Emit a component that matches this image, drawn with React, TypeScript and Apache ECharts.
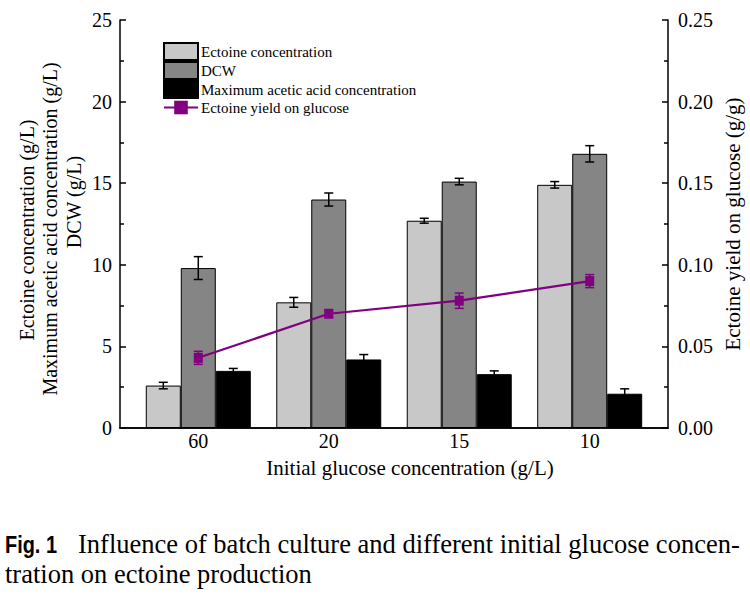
import React, { useEffect, useRef } from "react";
import * as echarts from "echarts";

const categories = ["60", "20", "15", "10"];
const ectoine = [2.6, 7.7, 12.7, 14.9];
const ectoineErr = [0.2, 0.3, 0.15, 0.2];
const dcw = [9.8, 14.0, 15.1, 16.8];
const dcwErr = [0.7, 0.4, 0.2, 0.5];
const acetic = [3.5, 4.2, 3.3, 2.1];
const aceticErr = [0.15, 0.3, 0.2, 0.3];
const yieldVals = [0.043, 0.07, 0.078, 0.09];
const yieldErr = [0.004, 0.002, 0.0047, 0.004];
const leftTicks = [0, 5, 10, 15, 20, 25];
const rightTicks = [0, 0.05, 0.1, 0.15, 0.2, 0.25];

const SERIF = "Liberation Serif";
const BAR_W = 35;

export default function App() {
  const ref = useRef<HTMLDivElement>(null);
  useEffect(() => {
    if (!ref.current) return;
    const chart = echarts.init(ref.current, null, { renderer: "svg" });
    const xs = categories.map((_, i) => i + 1);
    const errSeries = (name: string, vals: number[], errs: number[], dx: number, yAxisIndex: number, color: string) => ({
      type: "custom",
      name,
      yAxisIndex,
      z: 10,
      silent: true,
      data: vals.map((v, i) => [xs[i], v - errs[i], v + errs[i]]),
      renderItem: (params: any, api: any) => {
        const lo = api.coord([api.value(0), api.value(1)]);
        const hi = api.coord([api.value(0), api.value(2)]);
        const x = lo[0] + dx;
        const st = { stroke: color, lineWidth: 1.5 };
        return {
          type: "group",
          children: [
            { type: "line", shape: { x1: x, y1: lo[1], x2: x, y2: hi[1] }, style: st },
            { type: "line", shape: { x1: x - 4.5, y1: lo[1], x2: x + 4.5, y2: lo[1] }, style: st },
            { type: "line", shape: { x1: x - 4.5, y1: hi[1], x2: x + 4.5, y2: hi[1] }, style: st },
          ],
        };
      },
    });
    const barSeries = (name: string, vals: number[], color: string) => ({
      type: "bar",
      name,
      barWidth: BAR_W,
      barGap: "0%",
      data: vals.map((v, i) => [xs[i], v]),
      itemStyle: { color, borderColor: "#000", borderWidth: 1 },
    });
    const axisText = { color: "#000", fontFamily: SERIF, fontSize: 20 };
    const gText = (text: string, x: number, y: number, rot: number, extra: any = {}, el: any = {}) => ({
      type: "text",
      x,
      y,
      rotation: rot,
      ...el,
      style: {
        text,
        fontFamily: SERIF,
        fontSize: 20,
        fill: "#000",
        textAlign: "center",
        textVerticalAlign: "middle",
        ...extra,
      },
    });
    chart.setOption({
      animation: false,
      textStyle: { fontFamily: SERIF },
      grid: { left: 120, right: 82, top: 20, bottom: 167 },
      legend: {
        left: 163,
        top: 42,
        orient: "vertical",
        itemWidth: 34,
        itemHeight: 17,
        itemGap: 0,
        padding: 0,
        textStyle: { color: "#000", fontFamily: SERIF, fontSize: 15, lineHeight: 17, padding: [0, 0, 0, -2] },
        data: [
          { name: "Ectoine concentration", icon: "rect" },
          { name: "DCW", icon: "rect" },
          { name: "Maximum acetic acid concentration", icon: "rect" },
          { name: "Ectoine yield on glucose" },
        ],
      },
      xAxis: [
        {
          type: "value",
          min: 0.4,
          max: 4.6,
          interval: 0.2,
          axisLine: { lineStyle: { color: "#000", width: 1.5 } },
          axisTick: { show: false },
          splitLine: { show: false },
          axisLabel: {
            ...axisText,
            margin: 3,
            showMinLabel: true,
            showMaxLabel: true,
            formatter: (v: number) => {
              const r = Math.round(v);
              if (Math.abs(v - r) < 1e-6 && r >= 1 && r <= categories.length) return categories[r - 1];
              return "";
            },
          },
        },
        {
          type: "value",
          position: "top",
          min: 0.4,
          max: 4.6,
          axisLine: { show: true, lineStyle: { color: "#000", width: 1.5 } },
          axisTick: { show: false },
          axisLabel: { show: false },
          splitLine: { show: false },
        },
      ],
      yAxis: [
        {
          type: "value",
          min: leftTicks[0],
          max: leftTicks[leftTicks.length - 1],
          interval: 5,
          axisLine: { show: true, lineStyle: { color: "#000", width: 1.5 } },
          axisTick: { show: true, inside: true, length: 6, lineStyle: { color: "#000", width: 1.5 } },
          minorTick: { show: true, splitNumber: 2, length: 4, lineStyle: { color: "#000", width: 1.5 } },
          splitLine: { show: false },
          axisLabel: { ...axisText, margin: 8 },
        },
        {
          type: "value",
          min: rightTicks[0],
          max: rightTicks[rightTicks.length - 1],
          interval: 0.05,
          position: "right",
          axisLine: { show: true, lineStyle: { color: "#000", width: 1.5 } },
          axisTick: { show: true, inside: true, length: 6, lineStyle: { color: "#000", width: 1.5 } },
          minorTick: { show: true, splitNumber: 2, length: 4, lineStyle: { color: "#000", width: 1.5 } },
          splitLine: { show: false },
          axisLabel: { ...axisText, margin: 10, formatter: (v: number) => v.toFixed(2) },
        },
      ],
      series: [
        barSeries("Ectoine concentration", ectoine, "#c8c8c8"),
        barSeries("DCW", dcw, "#858585"),
        barSeries("Maximum acetic acid concentration", acetic, "#000000"),
        {
          type: "line",
          name: "Ectoine yield on glucose",
          yAxisIndex: 1,
          z: 9,
          data: yieldVals.map((v, i) => [xs[i], v]),
          symbol: "rect",
          symbolSize: [9, 10],
          lineStyle: { color: "#800080", width: 2.2 },
          itemStyle: { color: "#800080" },
        },
        errSeries("e1", ectoine, ectoineErr, -BAR_W, 0, "#000"),
        errSeries("e2", dcw, dcwErr, 0, 0, "#000"),
        errSeries("e3", acetic, aceticErr, BAR_W, 0, "#000"),
        errSeries("e4", yieldVals, yieldErr, 0, 1, "#800080"),
      ],
      graphic: [
        gText("Ectoine concentration (g/L)", 27, 230, Math.PI / 2),
        gText("Maximum acetic acid concentration (g/L)", 50, 229, Math.PI / 2),
        gText("DCW (g/L)", 74, 202, Math.PI / 2),
        gText("Ectoine yield on glucose (g/g)", 733, 224, Math.PI / 2, { fontSize: 21 }),
        gText("Initial glucose concentration (g/L)", 410, 468, 0, { fontSize: 21 }),
        gText(
          "Fig. 1",
          5,
          545,
          0,
          {
            fontFamily: "Liberation Sans",
            fontWeight: "bold",
            fontSize: 24,
            textAlign: "left",
          },
          { scaleX: 0.83 }
        ),
        gText("Influence of batch culture and different initial glucose concen-", 78, 544, 0, {
          fontSize: 26.5,
          textAlign: "left",
        }),
        gText("tration on ectoine production", 5, 574, 0, { fontSize: 26.5, textAlign: "left" }),
      ],
    });
    return () => chart.dispose();
  }, []);
  return (
    <div
      ref={ref}
      style={{ position: "fixed", left: 0, top: 0, width: 750, height: 595, background: "#fff" }}
    />
  );
}
